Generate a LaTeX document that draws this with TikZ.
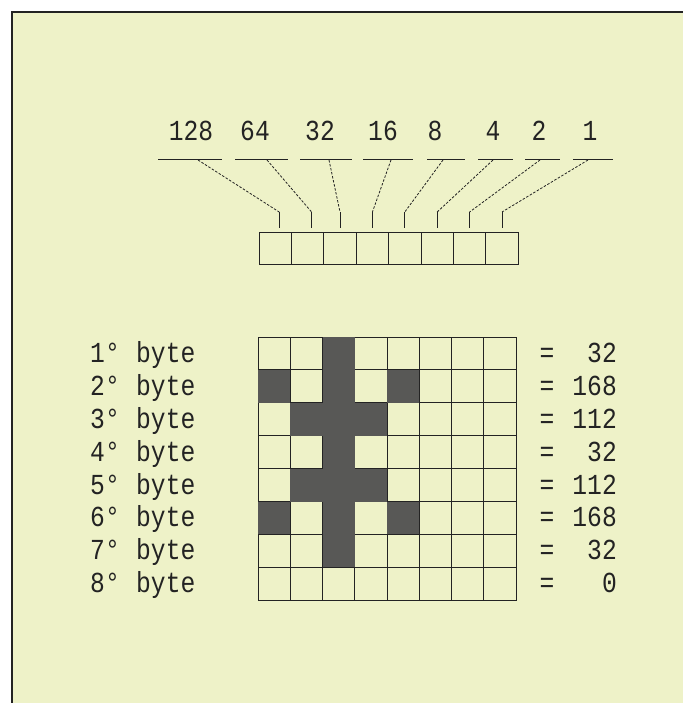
\documentclass[tikz,border=0pt]{standalone}
\usepackage{fontspec}
\usetikzlibrary{calc}
\newfontfamily\lcd[FakeStretch=0.85]{Liberation Mono}
\definecolor{paper}{RGB}{238,242,200}
\definecolor{ink}{RGB}{35,35,35}
\definecolor{pix}{RGB}{88,88,86}
\begin{document}
\begin{tikzpicture}[x=1pt,y=-1pt,
  txt/.style={font=\lcd\fontsize{29}{29}\selectfont, inner sep=0pt, text=ink},
  cell/.style={draw=ink, line width=1pt, minimum width=32.25pt, minimum height=32.9pt, inner sep=0pt, outer sep=0pt, anchor=north west},
  bitbox/.style={cell, minimum width=32.4pt, minimum height=32pt},
  bitline/.style={draw=ink, line width=1pt},
  lead/.style={draw=ink, line width=0.8pt, dash pattern=on 2.5pt off 1.6pt},
  tick/.style={draw=ink, line width=1pt},
  dark/.style={fill=pix}]
\useasboundingbox (0,0) rectangle (683,703);
\fill[white] (0,0) rectangle (683,703);
\fill[paper] (12,12) rectangle (683,703);
\draw[line width=1.3pt, draw=ink] (12,703) -- (12,12) -- (683,12);

% bit weights
\foreach \v/\x [count=\i from 0] in {128/191,64/255,32/320,16/383,8/435,4/493,2/539,1/590}
  \node[txt] (w\i) at (\x,131) {\v};

% bit lines
\foreach \a/\b [count=\i from 0] in {158/222,235/288,300/352,363/413,427/465,478/513,525/560,573/613}
  \draw[bitline] (\a,160) coordinate (la\i) -- (\b,160) coordinate (lb\i);

% byte boxes
\foreach \i in {0,...,7}
  \node[bitbox] (b\i) at ({259+32.4*\i},232) {};

% leaders
\foreach \s/\dx [count=\i from 0] in {198/4,267/4,329/0,391/0,443/0,493/0,540/0,588/0} {
  \coordinate (s\i) at (\s,160);
  \coordinate (t\i) at ($(b\i.north)+(\dx,-20)$);
  \coordinate (u\i) at ($(b\i.north)+(\dx,-4)$);
  \draw[lead] (s\i) -- (t\i);
  \draw[tick] (t\i) -- (u\i);
}

% grid
\foreach \r in {0,...,7}
  \foreach \c in {0,...,7}
    \node[cell] (g\r\c) at ({258+32.25*\c},{337+32.9*\r}) {};

% pixels
\foreach \r/\c in {0/2,1/0,1/2,1/4,2/1,2/2,2/3,3/2,4/1,4/2,4/3,5/0,5/2,5/4,6/2}
  \fill[dark] (g\r\c.north west) rectangle (g\r\c.south east);

% labels
\foreach \n/\v [count=\r from 0] in {1/32,2/168,3/112,4/32,5/112,6/168,7/32,8/0} {
  \node[txt, anchor=base east] (n\r) at (120,{337+32.9*\r+16.45+9}) {\n°};
  \node[txt, anchor=base west] (y\r) at (136,{337+32.9*\r+16.45+9}) {byte};
  \node[txt, anchor=base] (e\r) at (547,{337+32.9*\r+16.45+9}) {=};
  \node[txt, anchor=base east] (v\r) at (617,{337+32.9*\r+16.45+9}) {\v};
}
\end{tikzpicture}
\end{document}
